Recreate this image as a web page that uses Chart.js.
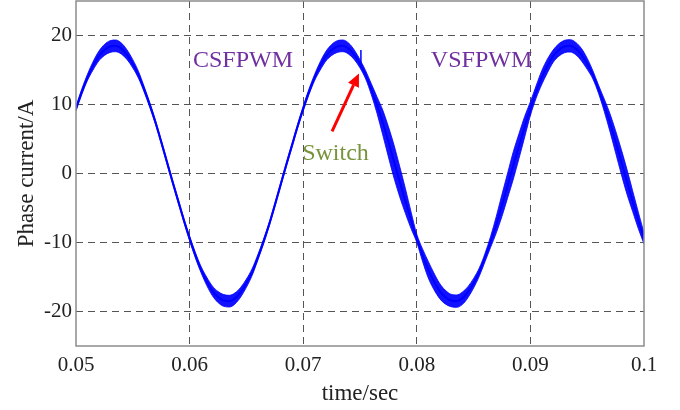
<!DOCTYPE html>
<html>
<head>
<meta charset="utf-8">
<script src="https://cdn.jsdelivr.net/npm/chart.js@4.4.1/dist/chart.umd.min.js"></script>
<style>
  html,body{margin:0;padding:0;background:#fff}
  #wrap{width:680px;height:410px}
</style>
</head>
<body>
<div id="wrap"><canvas id="chart" width="680" height="410"></canvas></div>
<script>
// sample times (s), read every 0.5 ms
const timeS=[
  0.0500,0.0505,0.0510,0.0515,0.0520,0.0525,0.0530,0.0535,0.0540,0.0545,
  0.0550,0.0555,0.0560,0.0565,0.0570,0.0575,0.0580,0.0585,0.0590,0.0595,
  0.0600,0.0605,0.0610,0.0615,0.0620,0.0625,0.0630,0.0635,0.0640,0.0645,
  0.0650,0.0655,0.0660,0.0665,0.0670,0.0675,0.0680,0.0685,0.0690,0.0695,
  0.0700,0.0705,0.0710,0.0715,0.0720,0.0725,0.0730,0.0735,0.0740,0.0745,
  0.0750,0.0755,0.0760,0.0765,0.0770,0.0775,0.0780,0.0785,0.0790,0.0795,
  0.0800,0.0805,0.0810,0.0815,0.0820,0.0825,0.0830,0.0835,0.0840,0.0845,
  0.0850,0.0855,0.0860,0.0865,0.0870,0.0875,0.0880,0.0885,0.0890,0.0895,
  0.0900,0.0905,0.0910,0.0915,0.0920,0.0925,0.0930,0.0935,0.0940,0.0945,
  0.0950,0.0955,0.0960,0.0965,0.0970,0.0975,0.0980,0.0985,0.0990,0.0995,
  0.1000
];
// phase current, middle of the trace (A)
const currentA=[
  9.4,11.8,13.9,15.6,17.0,17.9,18.4,18.5,18.1,17.2,
  15.9,14.3,12.2,9.9,7.4,4.6,1.7,-1.2,-4.0,-6.8,
  -9.4,-11.8,-13.9,-15.6,-17.0,-17.9,-18.4,-18.5,-18.1,-17.2,
  -15.9,-14.3,-12.2,-9.9,-7.4,-4.6,-1.7,1.2,4.0,6.8,
  9.4,11.8,13.9,15.6,17.0,17.9,18.4,18.5,18.1,17.2,
  15.9,14.3,12.2,9.9,7.4,4.6,1.7,-1.2,-4.0,-6.8,
  -9.4,-11.8,-13.9,-15.6,-17.0,-17.9,-18.4,-18.5,-18.1,-17.2,
  -15.9,-14.3,-12.2,-9.9,-7.4,-4.6,-1.7,1.2,4.0,6.8,
  9.4,11.8,13.9,15.6,17.0,17.9,18.4,18.5,18.1,17.2,
  15.9,14.3,12.2,9.9,7.4,4.6,1.7,-1.2,-4.0,-6.8,
  -9.4
];
// half width of the switching ripple band (A)
const rippleA=[
  0.35,0.4,0.45,0.6,0.7,0.8,0.85,0.85,0.8,0.7,
  0.6,0.5,0.4,0.35,0.3,0.3,0.3,0.3,0.3,0.3,
  0.35,0.4,0.45,0.6,0.7,0.8,0.85,0.85,0.8,0.7,
  0.6,0.5,0.4,0.35,0.3,0.3,0.3,0.3,0.3,0.3,
  0.35,0.4,0.45,0.6,0.7,0.8,0.85,0.85,0.8,0.7,
  0.6,0.6,0.8,1.2,1.8,2.2,2.4,2.2,1.8,1.2,
  0.6,0.9,1.2,1.2,1.1,1.0,0.9,0.9,0.9,0.8,
  0.7,0.6,0.6,0.8,1.2,1.6,1.8,2.0,1.8,1.5,
  1.0,0.9,1.0,1.0,0.9,0.9,0.9,0.9,0.9,0.9,
  0.8,0.6,0.6,0.9,1.3,1.6,1.8,1.8,1.5,1.2,
  0.8
];
// spike at the switching instant
const switchT=[0.07508,0.07508];
const switchA=[17.9,15.3];

const xTicks=[0.05,0.06,0.07,0.08,0.09,0.1];
const xTickLabels=['0.05','0.06','0.07','0.08','0.09','0.1'];
const yTicks=[-20,-10,0,10,20];

const pts=(xs,ys)=>xs.map((x,i)=>({x:x,y:ys[i]}));
const lower=pts(timeS,currentA.map((v,i)=>v-rippleA[i]));
const upper=pts(timeS,currentA.map((v,i)=>v+rippleA[i]));
const SERIF='"Liberation Serif","Times New Roman",serif';

// frame, labels and arrow
const decor={
  id:'decor',
  afterDatasetsDraw(chart){
    const {ctx,chartArea:a,scales:{x,y}}=chart;
    ctx.save();
    ctx.strokeStyle='#8c8c8c';ctx.lineWidth=1.5;
    ctx.strokeRect(a.left,a.top,a.right-a.left,a.bottom-a.top);
    ctx.textAlign='center';ctx.textBaseline='middle';
    ctx.font='24px '+SERIF;
    ctx.fillStyle='#7030a0';
    ctx.fillText('CSFPWM',x.getPixelForValue(0.0647),y.getPixelForValue(16.3));
    ctx.fillText('VSFPWM',x.getPixelForValue(0.0857),y.getPixelForValue(16.3));
    ctx.fillStyle='#77933c';
    ctx.fillText('Switch',x.getPixelForValue(0.07284),y.getPixelForValue(2.9));
    // arrow
    const x0=x.getPixelForValue(0.07254),y0=y.getPixelForValue(6.1);
    const x1=x.getPixelForValue(0.07491),y1=y.getPixelForValue(14.5);
    const ang=Math.atan2(y1-y0,x1-x0),L=13,W=6;
    const bx=x1-L*Math.cos(ang),by=y1-L*Math.sin(ang);
    ctx.strokeStyle='#ff0000';ctx.fillStyle='#ff0000';ctx.lineWidth=3;
    ctx.beginPath();ctx.moveTo(x0,y0);ctx.lineTo(bx,by);ctx.stroke();
    ctx.beginPath();ctx.moveTo(x1,y1);
    ctx.lineTo(bx+W*Math.sin(ang),by-W*Math.cos(ang));
    ctx.lineTo(bx-W*Math.sin(ang),by+W*Math.cos(ang));
    ctx.closePath();ctx.fill();
    ctx.restore();
  }
};

new Chart(document.getElementById('chart'),{
  type:'line',
  data:{datasets:[
    {data:lower,borderColor:'rgba(0,0,255,0.8)',borderWidth:1,pointRadius:0,fill:false,cubicInterpolationMode:'monotone'},
    {data:upper,borderColor:'rgba(0,0,255,0.8)',borderWidth:1,pointRadius:0,fill:'-1',backgroundColor:'rgba(0,0,255,0.93)',cubicInterpolationMode:'monotone'},
    {data:pts(timeS,currentA),borderColor:'#0000ff',borderWidth:2,pointRadius:0,fill:false,cubicInterpolationMode:'monotone'},
    {data:pts(switchT,switchA),borderColor:'#0000ff',borderWidth:1.5,pointRadius:0,fill:false}
  ]},
  options:{
    responsive:false,animation:false,devicePixelRatio:1,
    layout:{padding:{left:0,top:1,right:36,bottom:0}},
    plugins:{legend:{display:false},tooltip:{enabled:false}},
    scales:{
      x:{type:'linear',min:0.05,max:0.1,
        afterBuildTicks:s=>{s.ticks=xTicks.map(v=>({value:v}));},
        afterFit:s=>{s.height=64;s.paddingLeft=0;s.paddingRight=0;},
        ticks:{callback:(v,i)=>xTickLabels[i],padding:7,color:'#222',font:{family:SERIF,size:21},maxRotation:0},
        grid:{drawTicks:false,lineWidth:1,color:c=>(c.tick&&(c.tick.value<=0.05||c.tick.value>=0.1))?'rgba(0,0,0,0)':'#555'},
        border:{display:false,dash:[7,5]},
        title:{display:true,text:'time/sec',color:'#222',font:{family:SERIF,size:23},padding:{top:0,bottom:2}}
      },
      y:{min:-25,max:25,
        afterBuildTicks:s=>{s.ticks=yTicks.map(v=>({value:v}));},
        afterFit:s=>{s.width=76;s.paddingTop=0;s.paddingBottom=0;},
        ticks:{padding:4,color:'#222',font:{family:SERIF,size:21}},
        grid:{drawTicks:false,lineWidth:1,color:'#555'},
        border:{display:false,dash:[7,5]},
        title:{display:true,text:'Phase current/A',color:'#222',font:{family:SERIF,size:23},padding:{top:13,bottom:0}}
      }
    }
  },
  plugins:[decor]
});
</script>
</body>
</html>
